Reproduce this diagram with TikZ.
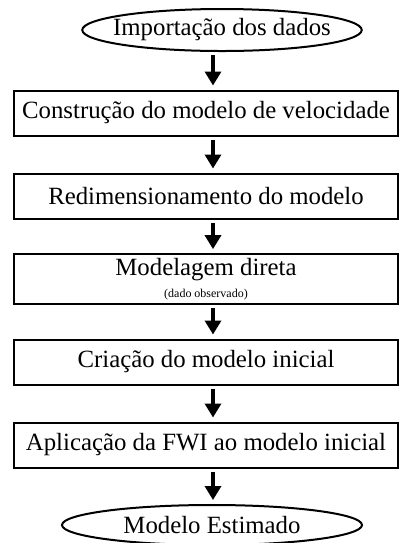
\documentclass[tikz,border=0pt]{standalone}
\usepackage{fontspec}
\setmainfont{Liberation Serif}
\usetikzlibrary{arrows.meta,shapes,positioning}

\begin{document}
\begin{tikzpicture}[->,>={Triangle[length=7pt,width=8pt]},line width=1.7pt,shorten >=2pt,shorten <=1.5pt,node distance=41.5pt,
        etapa/.style={draw,rectangle,line width=1pt,minimum width=192pt,minimum height=22.5pt,inner sep=2pt,align=center,font=\fontsize{12.4}{14}\selectfont},
        extremo/.style={draw,ellipse,line width=1pt,inner sep=0pt,font=\fontsize{12.4}{14}\selectfont}]
        \useasboundingbox (0,0) rectangle (200pt,-271.5pt);
        \node[etapa] (B) at (103pt,-56.5pt) {Construção do modelo de velocidade};
        \node[extremo] (A) [above of=B, xshift=8pt, inner xsep=-5pt, minimum width=139pt, minimum height=21pt] {Importação dos dados};
        \node[etapa] (C) [below of=B] {Redimensionamento do modelo};
        \node[etapa] (D) [below of=C] {Modelagem direta\\[-3pt]{\fontsize{6}{7}\selectfont (dado observado)}};
        \node[etapa] (E) [below of=D] {Criação do modelo inicial};
        \node[etapa] (F) [below of=E] {Aplicação da FWI ao modelo inicial};
        \node[extremo] (G) [below of=F, xshift=3pt, yshift=1.5pt, minimum width=150pt, minimum height=20pt] {Modelo Estimado};
        \path
        ([xshift=-4.5pt]A.south) edge ([xshift=3.5pt]B.north)
        ([xshift=3.5pt]B.south) edge ([xshift=3.5pt]C.north)
        ([xshift=3.5pt]C.south) edge ([xshift=3.5pt]D.north)
        ([xshift=3.5pt]D.south) edge ([xshift=3.5pt]E.north)
        ([xshift=3.5pt]E.south) edge ([xshift=3.5pt]F.north)
        ([xshift=3.5pt]F.south) edge ([xshift=0.5pt]G.north)
        ;
    \end{tikzpicture}
\end{document}
